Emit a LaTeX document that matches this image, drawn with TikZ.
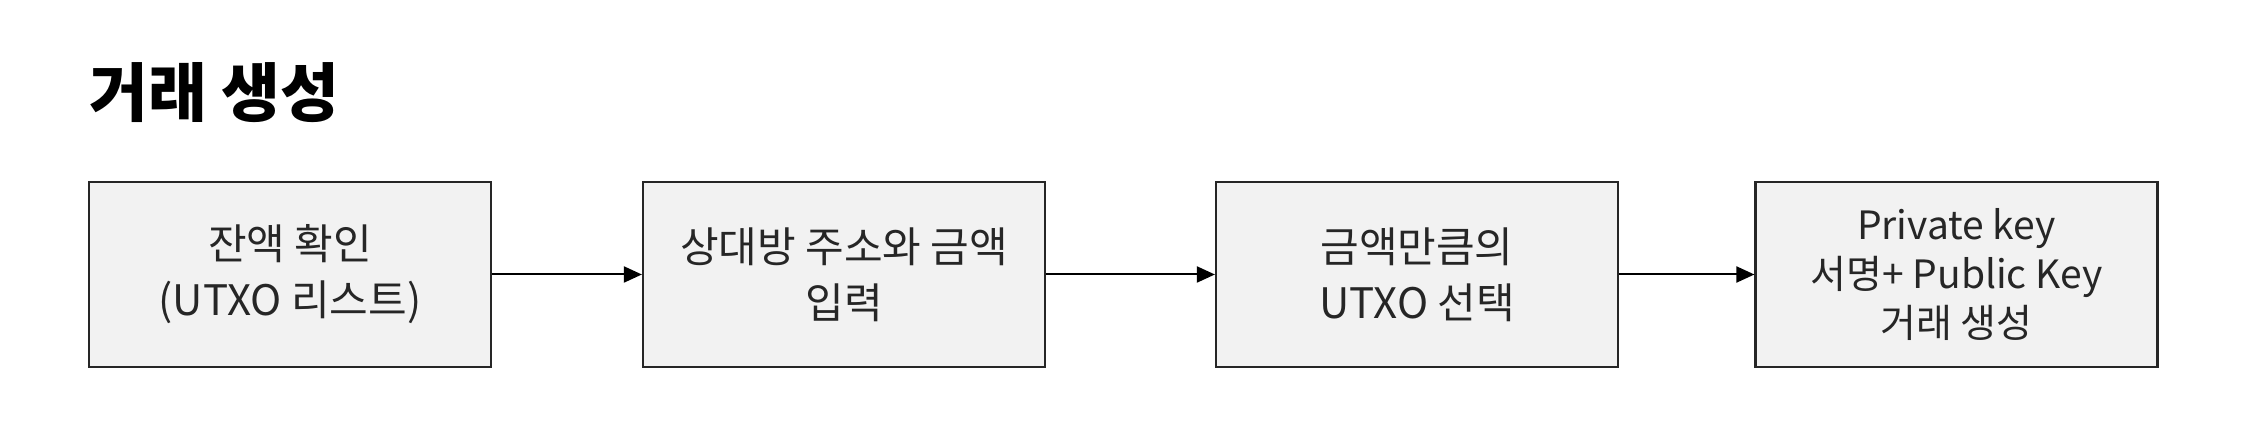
\documentclass[tikz,border=0pt]{standalone}
\usepackage{fontspec}
\setmainfont{Noto Sans CJK KR}
\usepackage{tikz}
\usetikzlibrary{arrows.meta, positioning}
\usepackage{xcolor}
\definecolor{boxfill}{HTML}{F2F2F2}
\definecolor{boxline}{HTML}{262626}

\begin{document}
\begin{tikzpicture}[x=0.5pt, y=0.5pt,
  stepbox/.style={rectangle, draw=boxline, fill=boxfill, line width=1.1pt,
                  minimum width=201pt, minimum height=92.5pt, align=center,
                  font=\fontsize{21}{28}\selectfont, text=black!85, inner sep=0pt},
  flow/.style={draw=black, line width=1pt, -{Triangle[length=9pt, width=8pt]}},
  headline/.style={font=\fontsize{32}{38}\selectfont\bfseries, anchor=west, inner sep=0pt}
]
\useasboundingbox (0,0) rectangle (2245,434);

% Title
\node[headline] (heading) at (89,341) {거래 생성};

% Step positions
\node[stepbox] (balance) at (290,159.5) {잔액 확인\\(UTXO 리스트)};
\node[stepbox] (recipient) at (844,159.5) {상대방 주소와 금액\\입력};
\node[stepbox] (select) at (1417,159.5) {금액만큼의\\UTXO 선택};
\node[stepbox, font=\fontsize{19.5}{24.5}\selectfont] (sign) at (1956.5,159.5) {Private key\\서명+ Public Key\\거래 생성};

% Arrows
\draw[flow] (balance.east) -- (recipient.west);
\draw[flow] (recipient.east) -- (select.west);
\draw[flow] (select.east) -- (sign.west);

\end{tikzpicture}
\end{document}
